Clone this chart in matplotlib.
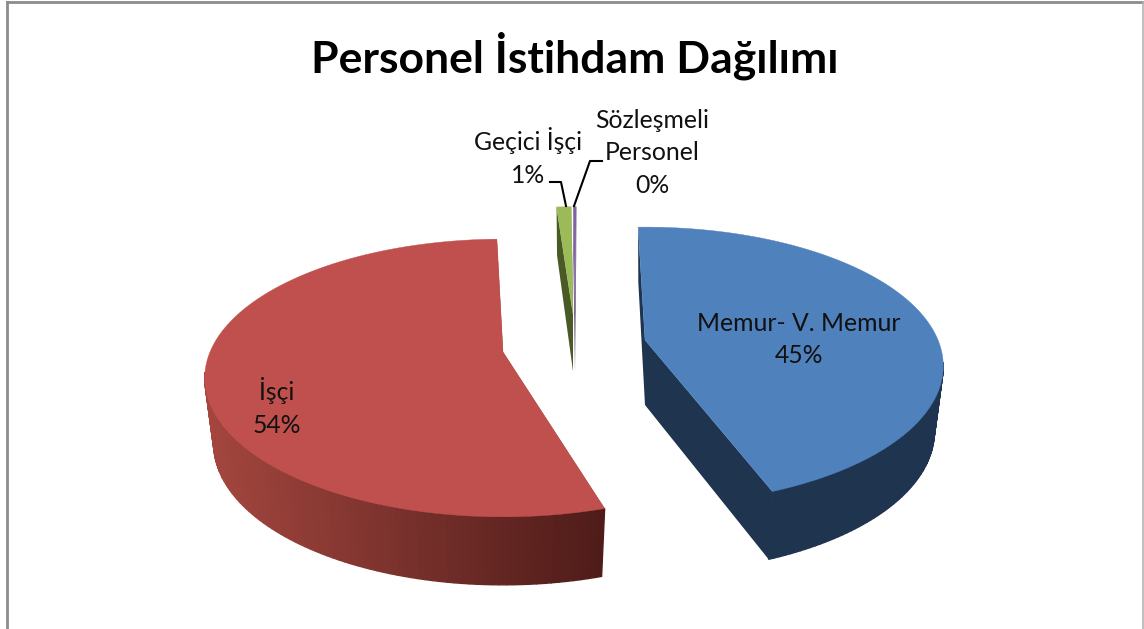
import numpy as np
import matplotlib
matplotlib.use('Agg')
import matplotlib.pyplot as plt

# share of each group (labels show them rounded)
names = ['Memur- V. Memur', 'İşçi', 'Geçici İşçi', 'Sözleşmeli\nPersonel']
shares = [44.6, 54.2, 1.0, 0.2]
top_colors = ['#4f81bd', '#c0504d', '#9bbb59', '#8064a2']
side_colors = ['#1f344f', '#7a2f2c', '#4a5a26', '#5a4a70']

# fake 3d pie, everything in image pixels
FIG_W, FIG_H = 1144, 629
RX, RY, PERSP = 293, 134, 0.187
START = -1.6
INSET = 0.97  # lower edge of the wall is a bit narrower
apex_x = [645, 503, 573, 575]
apex_y = [340, 352, 314, 314]
nudge = [0, 4.5, 1.9, 1.9]
radius = [1, 1, 0.95, 0.95]
thick = [1, 1, 0.88, 0.88]

plt.rcParams['font.family'] = ['Lato', 'DejaVu Sans']

fig = plt.figure(figsize=(FIG_W / 100, FIG_H / 100), dpi=100)
ax = fig.add_axes([0, 0, 1, 1])
ax.set_xlim(0, FIG_W)
ax.set_ylim(FIG_H, 0)
ax.axis('off')


def rim(theta, i):
    # theta in degrees clockwise from the back of the pie
    t = np.radians(theta)
    s = 1 / (1 + PERSP * np.cos(t))
    x = apex_x[i] + radius[i] * RX * np.sin(t) * s
    y = apex_y[i] - radius[i] * RY * np.cos(t) * s
    return x, y


def depth(theta, i):
    c = np.cos(np.radians(theta))
    return thick[i] * np.where(c > 0, 65 - 10 * c, 65 - 3 * c)


def mix(a, b, f):
    a, b = np.array(matplotlib.colors.to_rgb(a)), np.array(matplotlib.colors.to_rgb(b))
    return a + (b - a) * f


angle = START
for i, share in enumerate(shares):
    a0 = angle + nudge[i]
    a1 = a0 + share * 3.6
    angle += share * 3.6
    theta = np.linspace(a0, a1, 160)
    x, y = rim(theta, i)
    d = depth(theta, i)
    ax_, ay_ = apex_x[i], apex_y[i]
    d0 = 65 * thick[i]
    low_x = ax_ + (x - ax_) * INSET

    # start and end faces of the slice
    for th in (a0, a1):
        fx, fy = rim(th, i)
        ax.fill([ax_, fx, ax_ + (fx - ax_) * INSET, ax_], [ay_, fy, fy + depth(th, i), ay_ + d0],
                color=side_colors[i], lw=0, zorder=i + 1)

    # outer wall, only the front part shows. strips so the red one can fade left to right
    for k in range(len(theta) - 1):
        if np.cos(np.radians(theta[k])) > -0.15:
            continue
        if i == 1:
            f = np.clip((x[k] - 204) / (603 - 204), 0, 1)
            col = mix('#a4463f', '#4f1c19', f)
        else:
            col = side_colors[i]
        ax.fill([x[k], x[k + 1], low_x[k + 1], low_x[k]],
                [y[k], y[k + 1], y[k + 1] + d[k + 1], y[k] + d[k]],
                color=col, lw=1, zorder=i + 1)

    # top face
    ax.fill(np.r_[ax_, x], np.r_[ay_, y], color=top_colors[i], lw=0.3, zorder=i + 1.5)

pct = [f'{round(v)}%' for v in shares]
txt = dict(ha='center', va='center', fontsize=17.8, color='#111111', zorder=10, linespacing=1.5)
ax.text(799, 339.5, f'{names[0]}\n{pct[0]}', **txt)
ax.text(277, 407, f'{names[1]}\n{pct[1]}', **txt)
ax.text(528, 157, f'{names[2]}\n{pct[2]}', **txt)
ax.text(652, 153, f'{names[3]}\n{pct[3]}', **txt)

ax.text(575, 56, 'Personel İstihdam Dağılımı', ha='center', va='center',
        fontsize=32, fontweight='bold', color='black', zorder=10)

# leader lines
ax.plot([550, 561, 566], [182, 182, 206], color='black', lw=1.5, zorder=9)
ax.plot([602, 590, 574], [161, 161, 206], color='black', lw=1.5, zorder=9)

# frame of the chart, no bottom edge in the crop
ax.plot([7, 7], [FIG_H, 2], color='#8c8c8c', lw=2, zorder=0)
ax.plot([7, FIG_W], [2, 2], color='#8c8c8c', lw=2, zorder=0)
ax.plot([1143, 1143], [2, FIG_H], color='#b4b4b4', lw=1.2, zorder=0)

fig.savefig('out.png', dpi=100)
